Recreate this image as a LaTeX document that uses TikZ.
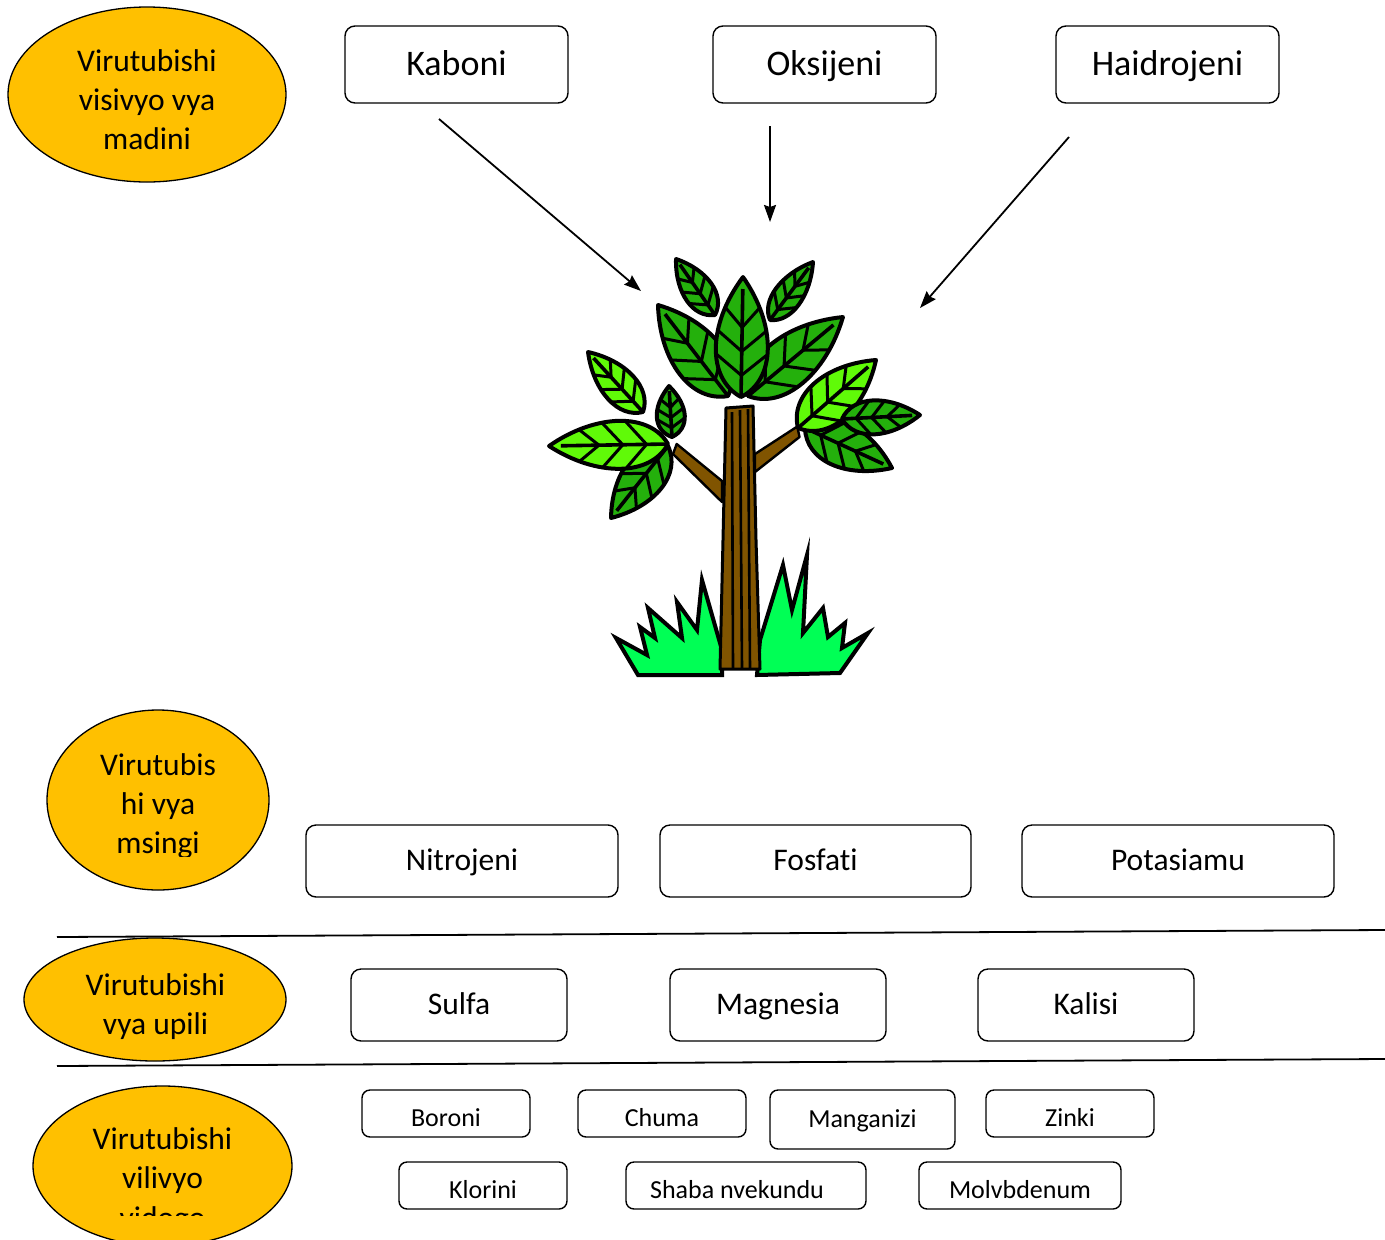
\documentclass[tikz,border=0pt]{standalone}
\usepackage{fontspec}
\setmainfont{Carlito}[Ligatures=NoCommon]
\usetikzlibrary{shapes.geometric,arrows.meta,calc}
\definecolor{gold}{RGB}{255,192,0}
\definecolor{leafdark}{RGB}{36,176,12}
\definecolor{leaflight}{RGB}{96,250,8}
\definecolor{grassgreen}{RGB}{0,255,85}
\definecolor{bark}{RGB}{128,84,0}
\newcommand\leafshape[6]{%
 \pgfmathsetmacro\lfdx{#3-#1}%
 \pgfmathsetmacro\lfdy{#4-#2}%
 \pgfmathsetmacro\lfang{atan2(-\lfdy,\lfdx)}%
 \pgfmathsetmacro\lflen{veclen(\lfdx,\lfdy)}%
 \pgfmathsetmacro\lfh{1.333*#5}%
 \begin{scope}[shift={(#1,#2)},rotate=\lfang]
  \filldraw[fill=#6,draw=black,line width=4pt,line join=round]
   (0,0) .. controls ({0.15*\lflen},\lfh) and ({0.6*\lflen},\lfh) .. (\lflen,0)
   .. controls ({0.6*\lflen},-\lfh) and ({0.15*\lflen},-\lfh) .. cycle;
  \draw[line width=3.6pt] (0,0) -- ({0.9*\lflen},0);
  \foreach \t/\s in {0.18/0.95,0.38/0.92,0.58/0.68}{
   \draw[line width=3pt] ({\t*\lflen},0) -- ({(\t+0.17)*\lflen},{\s*#5});
   \draw[line width=3pt] ({\t*\lflen},0) -- ({(\t+0.17)*\lflen},{-\s*#5});
  }
 \end{scope}}
\begin{document}
\begin{tikzpicture}[x=1pt,y=-1pt,
 bigbox/.style={draw,rounded corners=10pt,line width=1.4pt,minimum width=223pt,minimum height=77pt,inner sep=0pt},
 midbox/.style={draw,rounded corners=10pt,line width=1.4pt,minimum height=72pt,inner sep=0pt},
 smallbox/.style={draw,rounded corners=8pt,line width=1.4pt,minimum height=47pt,inner sep=0pt},
 oval/.style={ellipse,draw,fill=gold,line width=1.3pt,inner sep=0pt},
 bigtxt/.style={anchor=base,inner sep=0pt,font=\fontsize{36}{44}\selectfont},
 midtxt/.style={anchor=base,inner sep=0pt,font=\fontsize{31.5}{39}\selectfont},
 smalltxt/.style={anchor=base,inner sep=0pt,font=\fontsize{26}{32}\selectfont},
 arr/.style={line width=1.8pt,-{Stealth[length=17pt,width=12pt,inset=2pt]}},
 sep/.style={line width=1.8pt}]
\clip (0,0) rectangle (1385,1240);
\fill[white] (0,0) rectangle (1385,1240);

% ---- ovals ----
\node[oval,minimum width=278pt,minimum height=175pt] (e1) at (147,94.5) {};
\node[midtxt] at (147,71) {Virutubishi};
\node[midtxt] at (147,110) {visivyo vya};
\node[midtxt] at (147,149) {madini};

\node[oval,minimum width=222pt,minimum height=180pt] (e2) at (158,800) {};
\begin{scope}
\clip (40,740) rectangle (280,856);
\node[midtxt] at (158,775) {Virutubis};
\node[midtxt] at (158,814) {hi vya};
\node[midtxt] at (158,853) {msingi};
\end{scope}

\node[oval,minimum width=262pt,minimum height=123pt] (e3) at (155,999.5) {};
\node[midtxt] at (155.5,995) {Virutubishi};
\node[midtxt] at (155.5,1034) {vya upili};

\node[oval,minimum width=259pt,minimum height=160pt] (e4) at (162.5,1166) {};
\begin{scope}
\clip (40,1110) rectangle (290,1215);
\node[midtxt] at (162.5,1149) {Virutubishi};
\node[midtxt] at (162.5,1188) {vilivyo};
\node[midtxt] at (162.5,1228) {vidogo};
\end{scope}

% ---- top boxes ----
\node[bigbox] (kaboni) at (456.5,64.5) {};
\node[bigtxt] at (456.5,75) {Kaboni};
\node[bigbox] (oksijeni) at (824.5,64.5) {};
\node[bigtxt] at (824.5,75) {Oksijeni};
\node[bigbox] (haidrojeni) at (1167.5,64.5) {};
\node[bigtxt] at (1167.5,75) {Haidrojeni};

% ---- arrows ----
\coordinate (ka1) at (439,119);
\coordinate (ka2) at (641,291);
\coordinate (ok1) at (770,126);
\coordinate (ok2) at (770,222);
\coordinate (ha1) at (1069,137);
\coordinate (ha2) at (920,308);
\draw[arr] (ka1) -- (ka2);
\draw[arr] (ok1) -- (ok2);
\draw[arr] (ha1) -- (ha2);

% ---- tree ----
% branches
\filldraw[fill=bark,line width=2.4pt,line join=round] (676.7,444) -- (722,481) -- (722,502) -- (673,454) -- cycle;
\filldraw[fill=bark,line width=2.4pt,line join=round] (797.3,426.5) -- (755,454) -- (755,472) -- (799.5,437) -- cycle;
% leaves
\leafshape{715}{315}{676}{259}{15}{leafdark}
\leafshape{770}{320}{813}{262}{14}{leafdark}
\leafshape{728}{396}{658}{305}{25}{leafdark}
\leafshape{748}{396}{843}{317}{25}{leafdark}
\leafshape{741}{397}{743}{277}{26}{leafdark}
\leafshape{643}{412}{588}{352}{17}{leaflight}
\leafshape{672}{437}{669}{386}{14}{leafdark}
\leafshape{668}{446}{611}{518}{21}{leafdark}
\leafshape{668}{444}{549}{446}{24}{leaflight}
\leafshape{805}{428}{892}{468}{22}{leafdark}
\leafshape{798}{428}{876}{360}{23}{leaflight}
\leafshape{842}{419}{920}{415}{17}{leafdark}
% grass
\filldraw[fill=grassgreen,line width=4pt,line join=miter] (638,675) -- (616,638) -- (647,655) -- (640,627) -- (655,638) -- (648,608) -- (682,638) -- (677,602) -- (697,630) -- (702,580) -- (722,650) -- (722,675) -- cycle;
\filldraw[fill=grassgreen,line width=4pt,line join=miter] (757,675) -- (760,640) -- (783,565) -- (792,610) -- (807,555) -- (803,633) -- (823,608) -- (828,637) -- (845,623) -- (842,648) -- (868,633) -- (840,673) -- cycle;
% trunk
\filldraw[fill=bark,line width=3pt,line join=round] (726,408) -- (753,406) -- (756,540) -- (760,669) -- (720,669) -- (723,540) -- cycle;
\draw[line width=2.6pt] (732,412) -- (733,668);
\draw[line width=2.6pt] (740,410) -- (742,668);
\draw[line width=2.6pt] (748,409) -- (750,668);

% ---- macronutrients ----
\node[midbox,minimum width=312pt] (nitrojeni) at (462,861) {};
\node[midtxt] at (462,870.5) {Nitrojeni};
\node[midbox,minimum width=311pt] (fosfati) at (815.5,861) {};
\node[midtxt] at (815.5,870.5) {Fosfat\kern0pt i};
\node[midbox,minimum width=312pt] (potasiamu) at (1178,861) {};
\node[midtxt] at (1178,870.5) {Potasiamu};

\coordinate (s1a) at (57,937);
\coordinate (s1b) at (1385,930);
\draw[sep] (s1a) -- (s1b);

% ---- secondary ----
\node[midbox,minimum width=216pt] (sulfa) at (459,1005) {};
\node[midtxt] at (459,1014.5) {Sulfa};
\node[midbox,minimum width=216pt] (magnesia) at (778,1005) {};
\node[midtxt] at (778,1014.5) {Magnesia};
\node[midbox,minimum width=216pt] (kalisi) at (1086,1005) {};
\node[midtxt] at (1086,1014.5) {Kalisi};

\coordinate (s2a) at (57,1066);
\coordinate (s2b) at (1385,1059);
\draw[sep] (s2a) -- (s2b);

% ---- micronutrients ----
\node[smallbox,minimum width=168pt] (boroni) at (446,1113.5) {};
\node[smalltxt] at (446,1126.5) {Boroni};
\node[smallbox,minimum width=168pt] (chuma) at (662,1113.5) {};
\node[smalltxt] at (662,1126.5) {Chuma};
\node[smallbox,minimum width=185pt,minimum height=59pt] (manganizi) at (862.5,1119.5) {};
\node[smalltxt] at (862.5,1127.5) {Manganizi};
\node[smallbox,minimum width=168pt] (zinki) at (1070,1113.5) {};
\node[smalltxt] at (1070,1126.5) {Zinki};
\node[smallbox,minimum width=168pt] (klorini) at (483,1185.5) {};
\node[smalltxt] at (483,1198.5) {Klorini};
\node[smallbox,minimum width=240pt] (shaba) at (746,1185.5) {};
\node[smalltxt] at (737,1198.5) {Shaba nvekundu};
\node[smallbox,minimum width=202pt] (molvbdenum) at (1020,1185.5) {};
\node[smalltxt] at (1020,1198.5) {Molvbdenum};
\end{tikzpicture}
\end{document}
